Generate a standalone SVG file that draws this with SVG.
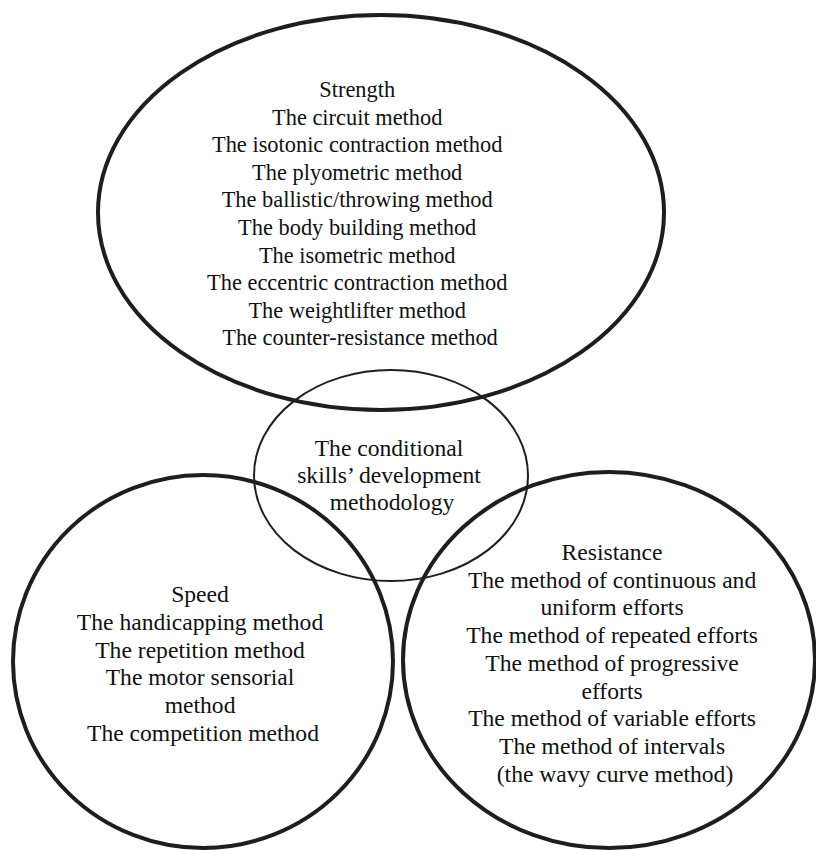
<svg xmlns="http://www.w3.org/2000/svg" width="816" height="850" viewBox="0 0 816 850">
<style>
.bold{fill:none;stroke:#1e1e1e;stroke-width:4}
.thin{fill:none;stroke:#1e1e1e;stroke-width:2}
text{font-family:"Liberation Serif","Times New Roman",serif;fill:#111;text-anchor:middle}
.t1{font-size:22.4px}
.t2{font-size:23.6px}
</style>
<rect width="816" height="850" fill="#fff"/>
<g id="strength">
<ellipse class="bold" cx="381" cy="212.5" rx="283" ry="197.5"/>
<text class="t1" x="360">
<tspan x="360" y="97">Strength</tspan>
<tspan x="360" y="124.6">The circuit method</tspan>
<tspan x="360" y="152.2">The isotonic contraction method</tspan>
<tspan x="360" y="179.8">The plyometric method</tspan>
<tspan x="360" y="207.4">The ballistic/throwing method</tspan>
<tspan x="360" y="235">The body building method</tspan>
<tspan x="360" y="262.6">The isometric method</tspan>
<tspan x="360" y="290.2">The eccentric contraction method</tspan>
<tspan x="360" y="317.8">The weightlifter method</tspan>
<tspan x="360" y="345.4">The counter-resistance method</tspan>
</text>
</g>
<g id="center">
<ellipse class="thin" cx="391" cy="475.5" rx="137" ry="105.5"/>
<text class="t2">
<tspan x="392" y="456">The conditional</tspan>
<tspan x="392" y="483">skills’ development</tspan>
<tspan x="392" y="510">methodology</tspan>
</text>
</g>
<g id="speed">
<ellipse class="bold" cx="203" cy="661.5" rx="190" ry="186.5"/>
<text class="t2">
<tspan x="203" y="602">Speed</tspan>
<tspan x="203" y="629.8">The handicapping method</tspan>
<tspan x="203" y="657.6">The repetition method</tspan>
<tspan x="203" y="685.4">The motor sensorial</tspan>
<tspan x="203" y="713.2">method</tspan>
<tspan x="203" y="741">The competition method</tspan>
</text>
</g>
<g id="resistance">
<ellipse class="bold" cx="609" cy="660" rx="206" ry="188"/>
<text class="t2">
<tspan x="615" y="560">Resistance</tspan>
<tspan x="615" y="587.7">The method of continuous and</tspan>
<tspan x="615" y="615.4">uniform efforts</tspan>
<tspan x="615" y="643.1">The method of repeated efforts</tspan>
<tspan x="615" y="670.8">The method of progressive</tspan>
<tspan x="615" y="698.5">efforts</tspan>
<tspan x="615" y="726.2">The method of variable efforts</tspan>
<tspan x="615" y="753.9">The method of intervals</tspan>
<tspan x="615" y="781.6">(the wavy curve method)</tspan>
</text>
</g>
<g id="connectors"></g>
</svg>
